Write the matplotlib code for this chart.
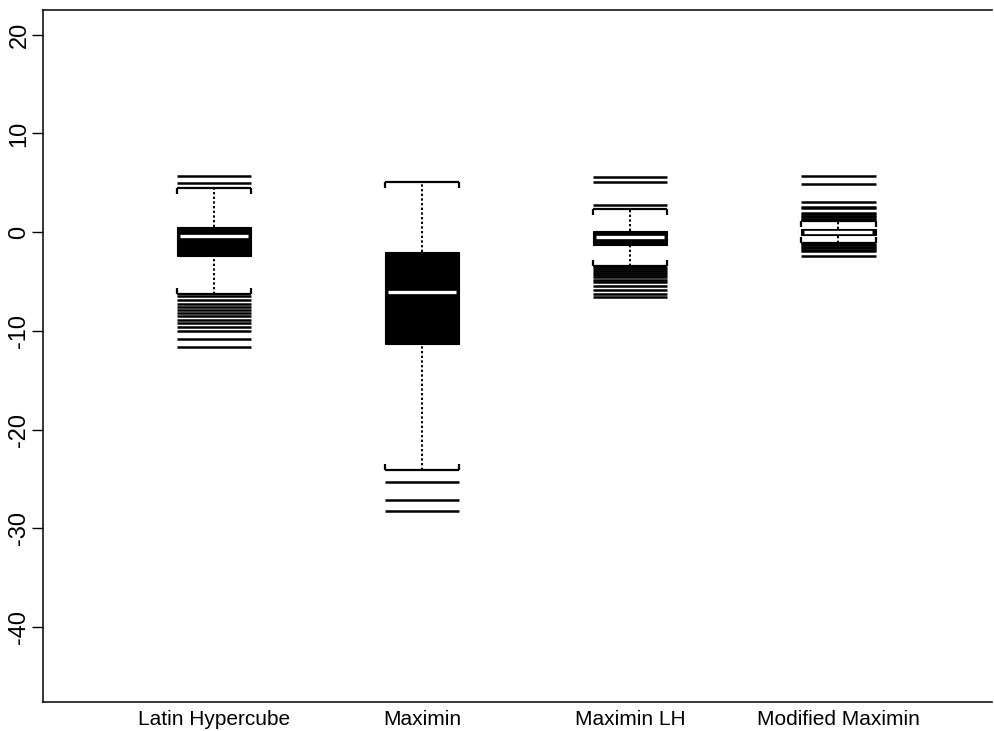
import matplotlib
matplotlib.use("Agg")
import matplotlib.pyplot as plt
import numpy as np

categories = ["Latin Hypercube", "Maximin", "Maximin LH", "Modified Maximin"]
q1 = [-2.4, -11.3, -1.35, -0.3]
q3 = [0.47, -2.06, 0.15, 0.35]
medians = [-0.4, -6.1, -0.5, 0.02]
whisk_lo = [-6.3, -24.1, -3.4, -1.1]
whisk_hi = [4.45, 5.07, 2.3, 1.1]
outliers = [
    [5.67, 4.93, -6.5, -6.85, -7.3, -7.6, -7.9, -8.15, -8.5, -8.9, -9.25,
     -9.65, -10.05, -10.85, -11.65],
    [-25.3, -27.15, -28.3],
    [5.6, 5.03, 2.73, -3.5, -3.7, -3.9, -4.1, -4.35, -4.55, -4.86,
     -5.1, -5.5, -5.9, -6.3, -6.6],
    [5.7, 4.85, 3.05, 2.5, 2.4, 1.2, 1.35, 1.5, 1.65, 1.8, 1.95,
     -1.2, -1.35, -1.5, -1.65, -1.8, -1.95, -2.4],
]
yticks = [20, 10, 0, -10, -20, -30, -40]

W, H = 995, 731
fig = plt.figure(figsize=(W / 100, H / 100), dpi=100)
ax = fig.add_axes([43 / W, (731 - 702) / H, (992 - 43) / W, (702 - 10) / H])

pos = np.arange(1, len(categories) + 1)
bw = 0.36
cap_tick = 0.6

for i, p in enumerate(pos):
    # whiskers
    ax.vlines(p, q3[i], whisk_hi[i], colors="black", linestyles=(0, (1.2, 1.2)), lw=1.4, zorder=2)
    ax.vlines(p, whisk_lo[i], q1[i], colors="black", linestyles=(0, (1.2, 1.2)), lw=1.4, zorder=2)
    # caps with bracket ticks
    ax.hlines([whisk_hi[i], whisk_lo[i]], p - bw / 2, p + bw / 2, colors="black", lw=1.6, zorder=3)
    ax.vlines([p - bw / 2, p + bw / 2], whisk_hi[i] - cap_tick, whisk_hi[i], colors="black", lw=1.6, zorder=3)
    ax.vlines([p - bw / 2, p + bw / 2], whisk_lo[i], whisk_lo[i] + cap_tick, colors="black", lw=1.6, zorder=3)
    # box
    ax.bar(p, q3[i] - q1[i], bottom=q1[i], width=bw, color="black", edgecolor="black", lw=0.8, zorder=4)
    # median
    ax.hlines(medians[i], p - bw / 2 + 0.015, p + bw / 2 - 0.015, colors="white", lw=2.4, zorder=5)
    # outliers as horizontal lines
    ax.hlines(outliers[i], p - bw / 2, p + bw / 2, colors="black", lw=1.8, zorder=3)

ax.set_xlim(0.178, 4.74)
ax.set_ylim(-47.6, 22.5)
ax.set_xticks(pos)
ax.set_xticklabels(categories, fontsize=15, family=["Liberation Sans", "DejaVu Sans"])
ax.tick_params(axis="x", length=0, pad=6)
ax.set_yticks(yticks)
ax.set_yticklabels([str(t) for t in yticks], rotation=90, va="center", fontsize=17,
                   family=["Liberation Sans", "DejaVu Sans"])
ax.tick_params(axis="y", length=8, width=1, pad=1)
ax.spines["right"].set_visible(False)
for s in ["left", "top", "bottom"]:
    ax.spines[s].set_linewidth(1.1)

fig.savefig("out.png", dpi=100)
